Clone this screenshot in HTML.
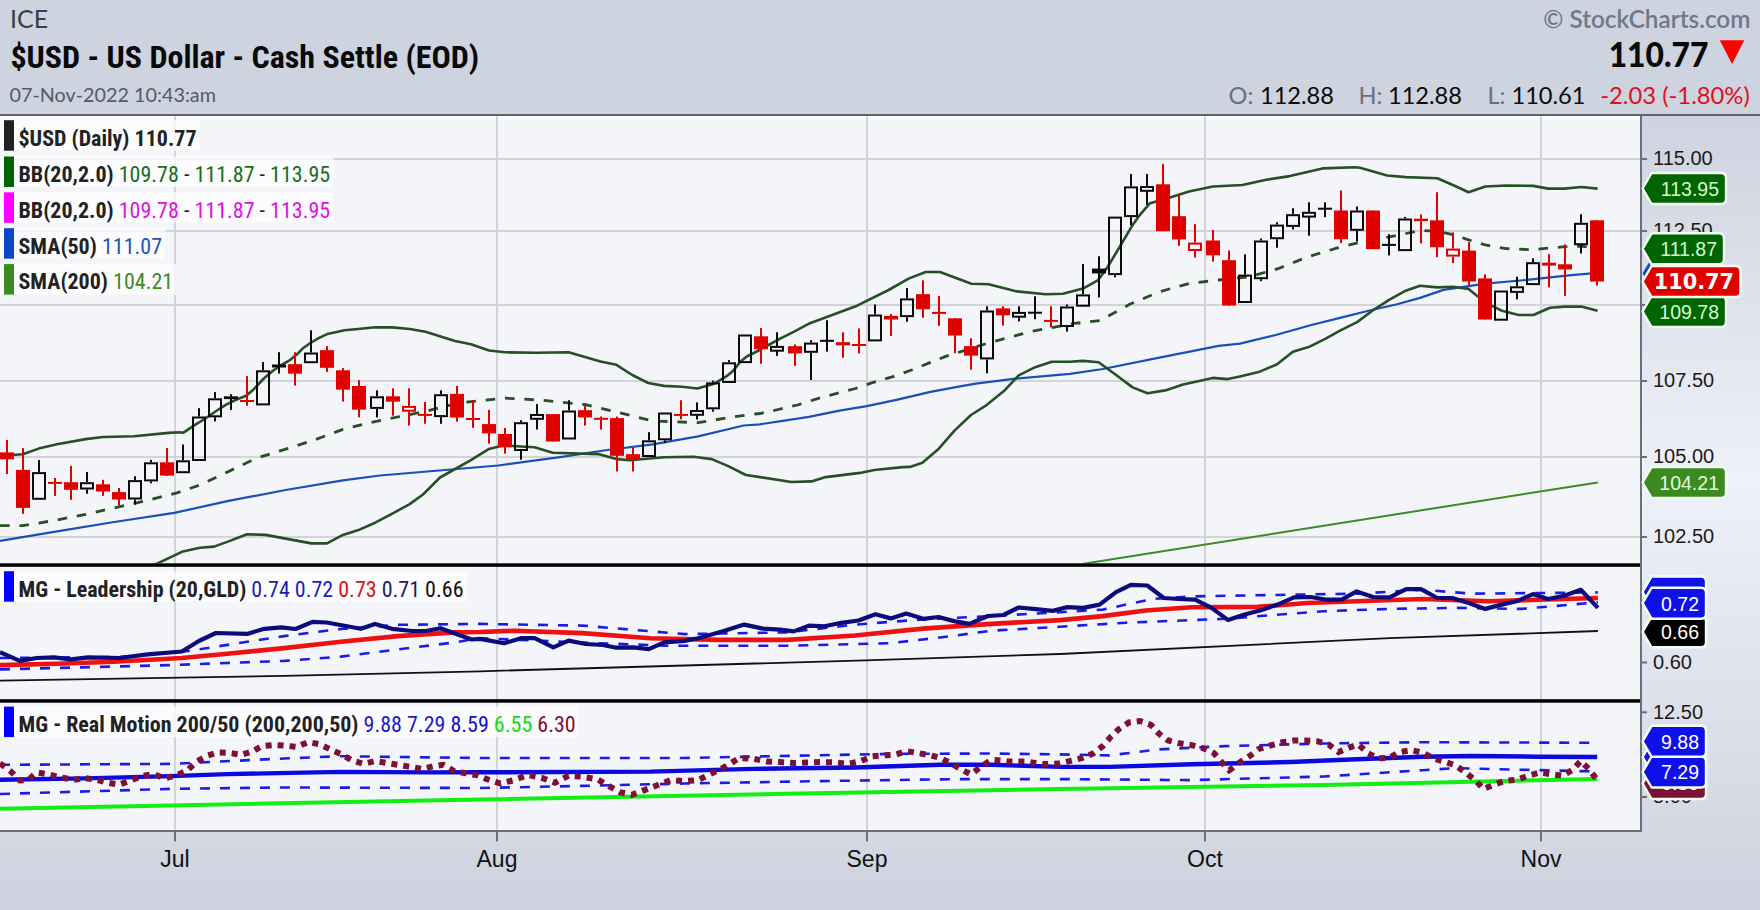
<!DOCTYPE html><html><head><meta charset="utf-8"><title>$USD - US Dollar - Cash Settle (EOD) | StockCharts</title><style>
html,body{margin:0;padding:0;width:1760px;height:910px;overflow:hidden;background:#cdd3df}
svg{display:block;position:absolute;left:0;top:0}
</style></head><body>
<svg width="1760" height="910" viewBox="0 0 1760 910">
<defs>
<linearGradient id="bgv" x1="0" y1="116" x2="0" y2="910" gradientUnits="userSpaceOnUse"><stop offset="0" stop-color="#ced3df"/><stop offset="0.46" stop-color="#eff1f9"/><stop offset="1" stop-color="#cdd2de"/></linearGradient>
<clipPath id="cp1"><rect x="0" y="116" width="1640" height="447.3"/></clipPath>
<clipPath id="cp2"><rect x="0" y="566.8" width="1640" height="132.4"/></clipPath>
<clipPath id="cp3"><rect x="0" y="702.7" width="1640" height="127.3"/></clipPath>
</defs>
<rect x="0" y="0" width="1760" height="114" fill="#cdd3df"/>
<rect x="0" y="116" width="1760" height="794" fill="url(#bgv)"/>
<rect x="0" y="116" width="1640" height="714" fill="#f4f5f9"/>
<rect x="0" y="116" width="1640" height="2" fill="#fdfdfe"/>
<rect x="0" y="118" width="1640" height="2" fill="#f9f9fc"/>
<rect x="0" y="158" width="1640" height="2" fill="#d3d4da"/>
<rect x="0" y="230" width="1640" height="2" fill="#d3d4da"/>
<rect x="0" y="304" width="1640" height="2" fill="#d3d4da"/>
<rect x="0" y="380" width="1640" height="2" fill="#d3d4da"/>
<rect x="0" y="456" width="1640" height="2" fill="#d3d4da"/>
<rect x="0" y="536" width="1640" height="2" fill="#d3d4da"/>
<rect x="174" y="116" width="2" height="714" fill="#d3d4da"/>
<rect x="496" y="116" width="2" height="714" fill="#d3d4da"/>
<rect x="866" y="116" width="2" height="714" fill="#d3d4da"/>
<rect x="1204" y="116" width="2" height="714" fill="#d3d4da"/>
<rect x="1540" y="116" width="2" height="714" fill="#d3d4da"/>
<g clip-path="url(#cp1)">
<polyline points="1082.0,564.0 1597.9,482.4" fill="none" stroke="#3f8a28" stroke-width="2"/>
<polyline points="0.0,540.9 57.0,531.4 114.3,522.0 174.3,512.9 228.6,500.9 285.7,490.0 342.9,480.3 380.0,475.5 498.2,465.5 561.8,456.8 607.3,450.0 652.7,444.3 698.2,436.4 743.6,425.5 760.0,424.3 782.7,420.9 808.9,416.9 839.5,410.7 866.8,406.1 896.4,399.9 930.5,391.9 960.0,386.3 975.9,383.7 1015.4,378.7 1070.0,373.8 1102.9,369.0 1159.3,357.7 1218.7,345.8 1240.0,343.6 1275.7,335.0 1311.4,325.0 1340.0,317.9 1368.6,310.7 1397.1,304.3 1420.0,297.9 1443.5,289.9 1485.3,283.6 1527.0,279.9 1568.8,275.3 1597.6,272.8" fill="none" stroke="#1a4fb5" stroke-width="2.2" stroke-linejoin="round"/>
<polyline points="0.0,455.7 22.9,454.3 38.6,448.6 57.0,444.3 85.7,439.1 103.0,437.0 134.0,436.3 168.6,432.9 180.0,432.3 183.1,432.8 195.4,424.6 205.4,418.5 215.4,411.5 226.2,404.6 235.4,400.0 246.2,395.8 253.8,389.2 263.8,378.5 272.3,371.2 279.2,366.2 287.7,361.5 290.0,360.0 296.8,354.5 303.6,347.7 310.5,343.0 318.6,338.2 327.2,334.1 334.3,332.4 344.5,330.3 358.2,329.0 375.2,327.3 392.2,327.4 410.0,329.0 425.5,331.8 455.0,340.9 471.0,344.3 489.0,350.5 505.0,352.3 536.8,352.7 568.6,352.3 600.5,361.4 616.4,364.8 632.3,375.0 648.2,383.0 664.0,385.9 682.3,386.8 697.3,388.5 714.2,383.7 726.3,376.4 733.5,370.4 740.8,361.3 746.8,356.5 757.7,351.0 768.5,345.0 780.6,338.3 792.7,332.3 810.0,323.2 857.1,305.7 888.6,290.0 908.6,278.6 925.7,272.0 940.0,272.0 971.4,283.7 988.6,284.3 1017.0,291.4 1045.7,294.3 1062.9,293.7 1082.9,288.6 1098.2,280.1 1107.6,267.0 1120.8,245.0 1131.8,226.3 1139.5,215.3 1150.0,203.2 1165.3,199.0 1189.0,191.5 1212.8,186.5 1242.4,185.0 1266.2,179.7 1289.9,176.1 1322.6,168.4 1355.2,167.2 1360.0,167.7 1387.1,175.5 1405.9,177.1 1437.3,178.2 1454.0,185.5 1468.6,192.2 1485.3,186.5 1506.2,185.5 1533.3,185.9 1548.0,188.6 1564.6,188.6 1581.3,187.0 1597.6,188.6" fill="none" stroke="#264f26" stroke-width="2.6" stroke-linejoin="round"/>
<polyline points="150.0,566.0 158.6,562.9 182.9,551.4 200.0,547.7 214.0,546.6 228.6,541.4 247.0,534.3 265.7,534.9 285.7,538.6 311.4,543.4 327.0,543.4 342.9,534.9 360.0,529.4 375.2,522.7 392.3,513.6 409.3,504.4 423.0,494.5 440.0,477.5 470.9,460.2 489.0,448.9 502.7,445.5 534.5,447.3 552.7,452.7 598.2,454.1 616.4,459.1 630.0,460.2 664.0,457.3 693.6,456.8 711.8,459.1 727.7,465.9 745.9,475.0 760.0,477.1 791.4,482.0 811.4,481.4 825.7,477.1 860.0,472.9 874.3,470.0 902.9,467.1 910.0,466.9 922.4,462.7 938.8,448.7 954.5,430.6 971.0,415.0 986.6,405.1 1003.9,391.1 1018.7,375.4 1035.2,367.2 1051.7,361.7 1070.0,361.7 1082.9,360.9 1098.6,362.3 1114.8,374.0 1132.6,387.4 1147.5,393.3 1165.3,390.4 1183.1,384.4 1212.8,377.9 1227.6,379.1 1240.0,376.4 1258.6,372.1 1277.1,364.3 1292.9,351.7 1308.6,347.1 1325.7,338.6 1340.0,330.7 1357.1,322.1 1374.3,309.3 1390.0,299.3 1405.7,290.7 1420.0,285.7 1437.3,287.4 1452.9,286.8 1468.6,288.9 1485.3,302.4 1502.0,310.8 1518.7,315.0 1533.3,315.0 1550.0,307.7 1564.6,306.6 1581.3,306.6 1597.6,310.8" fill="none" stroke="#264f26" stroke-width="2.6" stroke-linejoin="round"/>
<polyline points="0.0,525.7 22.9,525.7 57.0,520.0 85.7,514.3 120.0,506.6 142.9,501.4 177.0,492.9 200.0,484.9 228.6,471.4 257.0,458.0 285.7,449.1 314.3,440.0 342.9,429.4 371.4,422.3 400.0,416.5 425.5,411.4 459.5,402.7 505.0,398.2 539.0,400.0 584.5,404.5 618.6,412.5 652.7,420.9 698.2,422.7 732.3,417.0 760.0,413.5 778.2,409.5 797.5,405.0 816.8,398.8 836.1,393.6 855.5,388.5 873.6,382.3 893.0,376.6 912.3,369.8 930.5,362.4 946.4,356.1 955.5,353.3 988.6,342.9 1031.4,331.4 1074.3,323.4 1100.0,320.6 1129.7,304.3 1159.3,291.8 1189.0,283.5 1218.7,280.0 1248.4,277.0 1278.0,268.7 1307.7,256.8 1337.4,247.9 1366.3,240.8 1387.1,237.3 1405.9,233.5 1420.6,230.4 1437.3,231.4 1452.9,234.6 1468.6,239.8 1485.3,245.0 1506.2,248.6 1533.3,249.8 1548.0,248.1 1564.6,246.7 1581.3,246.1 1597.6,248.5" fill="none" stroke="#264f26" stroke-width="2.8" stroke-dasharray="9.6,9.8"/>
<rect x="6" y="440.0" width="2" height="34.0" fill="#e00000"/>
<rect x="0" y="452.4" width="14" height="6.9" fill="#e00000"/>
<rect x="22" y="448.1" width="2" height="65.7" fill="#e00000"/>
<rect x="16" y="469.9" width="14" height="38.0" fill="#e00000"/>
<rect x="38" y="460.0" width="2" height="12.1" fill="#0a0a0a"/>
<rect x="33" y="473.1" width="12" height="25.7" fill="none" stroke="#0a0a0a" stroke-width="2"/>
<rect x="54" y="478.0" width="2" height="17.9" fill="#e00000"/>
<rect x="48" y="481.9" width="14" height="2.0" fill="#e00000"/>
<rect x="70" y="465.9" width="2" height="33.9" fill="#e00000"/>
<rect x="64" y="482.2" width="14" height="7.6" fill="#e00000"/>
<rect x="86" y="472.0" width="2" height="10.2" fill="#0a0a0a"/>
<rect x="86" y="489.5" width="2" height="4.2" fill="#0a0a0a"/>
<rect x="81" y="483.2" width="12" height="5.3" fill="none" stroke="#0a0a0a" stroke-width="2"/>
<rect x="102" y="479.8" width="2" height="16.1" fill="#e00000"/>
<rect x="96" y="484.3" width="14" height="7.2" fill="#e00000"/>
<rect x="118" y="488.0" width="2" height="17.8" fill="#e00000"/>
<rect x="112" y="492.1" width="14" height="7.4" fill="#e00000"/>
<rect x="134" y="476.2" width="2" height="3.9" fill="#0a0a0a"/>
<rect x="134" y="499.5" width="2" height="5.1" fill="#0a0a0a"/>
<rect x="129" y="481.1" width="12" height="17.4" fill="none" stroke="#0a0a0a" stroke-width="2"/>
<rect x="150" y="459.9" width="2" height="2.4" fill="#0a0a0a"/>
<rect x="150" y="481.4" width="2" height="2.0" fill="#0a0a0a"/>
<rect x="145" y="463.3" width="12" height="17.1" fill="none" stroke="#0a0a0a" stroke-width="2"/>
<rect x="166" y="448.0" width="2" height="27.8" fill="#e00000"/>
<rect x="160" y="462.3" width="14" height="13.3" fill="#e00000"/>
<rect x="182" y="444.5" width="2" height="15.8" fill="#0a0a0a"/>
<rect x="177" y="461.3" width="12" height="10.9" fill="none" stroke="#0a0a0a" stroke-width="2"/>
<rect x="198" y="408.2" width="2" height="8.3" fill="#0a0a0a"/>
<rect x="193" y="417.5" width="12" height="42.5" fill="none" stroke="#0a0a0a" stroke-width="2"/>
<rect x="214" y="392.1" width="2" height="6.2" fill="#0a0a0a"/>
<rect x="214" y="417.3" width="2" height="4.1" fill="#0a0a0a"/>
<rect x="209" y="399.3" width="12" height="17.0" fill="none" stroke="#0a0a0a" stroke-width="2"/>
<rect x="230" y="394.2" width="2" height="15.7" fill="#0a0a0a"/>
<rect x="224" y="396.3" width="14" height="2.8" fill="#0a0a0a"/>
<rect x="246" y="376.1" width="2" height="29.6" fill="#e00000"/>
<rect x="240" y="400.0" width="14" height="2.0" fill="#e00000"/>
<rect x="262" y="362.0" width="2" height="8.3" fill="#0a0a0a"/>
<rect x="257" y="371.3" width="12" height="33.1" fill="none" stroke="#0a0a0a" stroke-width="2"/>
<rect x="278" y="352.2" width="2" height="21.4" fill="#0a0a0a"/>
<rect x="272" y="364.5" width="14" height="3.0" fill="#0a0a0a"/>
<rect x="294" y="352.2" width="2" height="33.4" fill="#e00000"/>
<rect x="288" y="364.2" width="14" height="9.4" fill="#e00000"/>
<rect x="310" y="330.2" width="2" height="22.3" fill="#0a0a0a"/>
<rect x="305" y="353.5" width="12" height="8.7" fill="none" stroke="#0a0a0a" stroke-width="2"/>
<rect x="326" y="346.1" width="2" height="25.8" fill="#e00000"/>
<rect x="320" y="350.2" width="14" height="17.6" fill="#e00000"/>
<rect x="342" y="368.1" width="2" height="33.5" fill="#e00000"/>
<rect x="336" y="370.3" width="14" height="19.3" fill="#e00000"/>
<rect x="358" y="380.2" width="2" height="37.1" fill="#e00000"/>
<rect x="352" y="386.0" width="14" height="23.6" fill="#e00000"/>
<rect x="376" y="390.3" width="2" height="6.0" fill="#0a0a0a"/>
<rect x="376" y="408.9" width="2" height="8.5" fill="#0a0a0a"/>
<rect x="371" y="397.3" width="12" height="10.6" fill="none" stroke="#0a0a0a" stroke-width="2"/>
<rect x="392" y="388.4" width="2" height="27.3" fill="#e00000"/>
<rect x="386" y="396.3" width="14" height="5.4" fill="#e00000"/>
<rect x="408" y="388.4" width="2" height="17.9" fill="#e00000"/>
<rect x="408" y="411.3" width="2" height="14.3" fill="#e00000"/>
<rect x="403" y="406.9" width="12" height="3.8" fill="none" stroke="#e00000" stroke-width="2"/>
<rect x="424" y="402.0" width="2" height="21.8" fill="#e00000"/>
<rect x="418" y="413.9" width="14" height="2.0" fill="#e00000"/>
<rect x="440" y="390.3" width="2" height="3.9" fill="#0a0a0a"/>
<rect x="440" y="417.1" width="2" height="6.7" fill="#0a0a0a"/>
<rect x="435" y="395.2" width="12" height="20.9" fill="none" stroke="#0a0a0a" stroke-width="2"/>
<rect x="456" y="386.0" width="2" height="35.7" fill="#e00000"/>
<rect x="450" y="393.9" width="14" height="23.6" fill="#e00000"/>
<rect x="472" y="400.2" width="2" height="27.6" fill="#e00000"/>
<rect x="466" y="418.0" width="14" height="2.0" fill="#e00000"/>
<rect x="488" y="409.9" width="2" height="33.8" fill="#e00000"/>
<rect x="482" y="424.1" width="14" height="9.3" fill="#e00000"/>
<rect x="504" y="428.0" width="2" height="25.6" fill="#e00000"/>
<rect x="498" y="434.0" width="14" height="13.3" fill="#e00000"/>
<rect x="520" y="420.2" width="2" height="2.0" fill="#0a0a0a"/>
<rect x="520" y="451.0" width="2" height="8.7" fill="#0a0a0a"/>
<rect x="515" y="423.2" width="12" height="26.8" fill="none" stroke="#0a0a0a" stroke-width="2"/>
<rect x="536" y="404.1" width="2" height="10.4" fill="#0a0a0a"/>
<rect x="536" y="419.3" width="2" height="10.2" fill="#0a0a0a"/>
<rect x="531" y="415.0" width="12" height="3.8" fill="none" stroke="#0a0a0a" stroke-width="2"/>
<rect x="552" y="414.1" width="2" height="27.4" fill="#e00000"/>
<rect x="546" y="414.1" width="14" height="27.4" fill="#e00000"/>
<rect x="568" y="400.2" width="2" height="10.3" fill="#0a0a0a"/>
<rect x="563" y="411.5" width="12" height="27.0" fill="none" stroke="#0a0a0a" stroke-width="2"/>
<rect x="584" y="405.0" width="2" height="20.6" fill="#e00000"/>
<rect x="578" y="410.2" width="14" height="7.2" fill="#e00000"/>
<rect x="600" y="416.5" width="2" height="13.0" fill="#e00000"/>
<rect x="594" y="417.8" width="14" height="2.0" fill="#e00000"/>
<rect x="616" y="416.5" width="2" height="55.0" fill="#e00000"/>
<rect x="610" y="418.1" width="14" height="37.7" fill="#e00000"/>
<rect x="632" y="447.9" width="2" height="23.6" fill="#e00000"/>
<rect x="626" y="454.2" width="14" height="5.8" fill="#e00000"/>
<rect x="648" y="432.2" width="2" height="8.1" fill="#0a0a0a"/>
<rect x="643" y="441.3" width="12" height="14.7" fill="none" stroke="#0a0a0a" stroke-width="2"/>
<rect x="664" y="440.3" width="2" height="2.8" fill="#0a0a0a"/>
<rect x="659" y="413.5" width="12" height="25.8" fill="none" stroke="#0a0a0a" stroke-width="2"/>
<rect x="680" y="400.2" width="2" height="19.1" fill="#e00000"/>
<rect x="674" y="413.9" width="14" height="2.0" fill="#e00000"/>
<rect x="696" y="402.4" width="2" height="8.1" fill="#0a0a0a"/>
<rect x="696" y="415.3" width="2" height="4.2" fill="#0a0a0a"/>
<rect x="691" y="411.0" width="12" height="3.8" fill="none" stroke="#0a0a0a" stroke-width="2"/>
<rect x="712" y="380.6" width="2" height="1.8" fill="#0a0a0a"/>
<rect x="712" y="409.3" width="2" height="2.4" fill="#0a0a0a"/>
<rect x="707" y="383.4" width="12" height="24.9" fill="none" stroke="#0a0a0a" stroke-width="2"/>
<rect x="728" y="360.1" width="2" height="2.2" fill="#0a0a0a"/>
<rect x="723" y="363.3" width="12" height="18.7" fill="none" stroke="#0a0a0a" stroke-width="2"/>
<rect x="739" y="335.5" width="12" height="26.6" fill="none" stroke="#0a0a0a" stroke-width="2"/>
<rect x="760" y="328.1" width="2" height="35.6" fill="#e00000"/>
<rect x="754" y="336.3" width="14" height="12.9" fill="#e00000"/>
<rect x="776" y="332.3" width="2" height="14.3" fill="#0a0a0a"/>
<rect x="776" y="351.0" width="2" height="4.9" fill="#0a0a0a"/>
<rect x="771" y="346.9" width="12" height="3.8" fill="none" stroke="#0a0a0a" stroke-width="2"/>
<rect x="794" y="344.4" width="2" height="21.5" fill="#e00000"/>
<rect x="788" y="346.2" width="14" height="7.2" fill="#e00000"/>
<rect x="810" y="340.2" width="2" height="2.4" fill="#0a0a0a"/>
<rect x="810" y="352.8" width="2" height="27.2" fill="#0a0a0a"/>
<rect x="805" y="343.6" width="12" height="8.2" fill="none" stroke="#0a0a0a" stroke-width="2"/>
<rect x="826" y="320.2" width="2" height="31.4" fill="#0a0a0a"/>
<rect x="820" y="339.8" width="14" height="2.0" fill="#0a0a0a"/>
<rect x="842" y="332.3" width="2" height="25.4" fill="#e00000"/>
<rect x="836" y="342.2" width="14" height="3.1" fill="#e00000"/>
<rect x="858" y="328.4" width="2" height="25.0" fill="#e00000"/>
<rect x="852" y="344.0" width="14" height="2.0" fill="#e00000"/>
<rect x="874" y="304.5" width="2" height="10.0" fill="#0a0a0a"/>
<rect x="869" y="315.5" width="12" height="24.9" fill="none" stroke="#0a0a0a" stroke-width="2"/>
<rect x="890" y="314.1" width="2" height="21.8" fill="#e00000"/>
<rect x="884" y="315.9" width="14" height="3.6" fill="#e00000"/>
<rect x="906" y="288.1" width="2" height="10.3" fill="#0a0a0a"/>
<rect x="906" y="317.1" width="2" height="4.6" fill="#0a0a0a"/>
<rect x="901" y="299.4" width="12" height="16.7" fill="none" stroke="#0a0a0a" stroke-width="2"/>
<rect x="922" y="280.3" width="2" height="37.4" fill="#e00000"/>
<rect x="916" y="294.2" width="14" height="15.1" fill="#e00000"/>
<rect x="938" y="296.0" width="2" height="29.8" fill="#e00000"/>
<rect x="932" y="311.9" width="14" height="2.0" fill="#e00000"/>
<rect x="954" y="318.3" width="2" height="34.8" fill="#e00000"/>
<rect x="948" y="318.3" width="14" height="17.2" fill="#e00000"/>
<rect x="970" y="338.3" width="2" height="31.4" fill="#e00000"/>
<rect x="964" y="346.1" width="14" height="9.5" fill="#e00000"/>
<rect x="986" y="306.3" width="2" height="4.2" fill="#0a0a0a"/>
<rect x="986" y="359.4" width="2" height="13.9" fill="#0a0a0a"/>
<rect x="981" y="311.5" width="12" height="46.9" fill="none" stroke="#0a0a0a" stroke-width="2"/>
<rect x="1002" y="306.3" width="2" height="19.3" fill="#e00000"/>
<rect x="996" y="308.4" width="14" height="6.9" fill="#e00000"/>
<rect x="1018" y="306.3" width="2" height="6.2" fill="#0a0a0a"/>
<rect x="1018" y="317.1" width="2" height="4.3" fill="#0a0a0a"/>
<rect x="1013" y="312.9" width="12" height="3.8" fill="none" stroke="#0a0a0a" stroke-width="2"/>
<rect x="1034" y="296.3" width="2" height="23.0" fill="#0a0a0a"/>
<rect x="1028" y="311.7" width="14" height="2.0" fill="#0a0a0a"/>
<rect x="1050" y="306.3" width="2" height="21.1" fill="#e00000"/>
<rect x="1044" y="319.9" width="14" height="2.0" fill="#e00000"/>
<rect x="1066" y="304.4" width="2" height="2.1" fill="#0a0a0a"/>
<rect x="1066" y="327.0" width="2" height="4.6" fill="#0a0a0a"/>
<rect x="1061" y="307.5" width="12" height="18.5" fill="none" stroke="#0a0a0a" stroke-width="2"/>
<rect x="1082" y="264.0" width="2" height="30.4" fill="#0a0a0a"/>
<rect x="1077" y="295.4" width="12" height="10.3" fill="none" stroke="#0a0a0a" stroke-width="2"/>
<rect x="1098" y="256.3" width="2" height="41.1" fill="#0a0a0a"/>
<rect x="1092" y="268.6" width="14" height="4.8" fill="#0a0a0a"/>
<rect x="1114" y="275.1" width="2" height="2.3" fill="#0a0a0a"/>
<rect x="1109" y="217.6" width="12" height="56.5" fill="none" stroke="#0a0a0a" stroke-width="2"/>
<rect x="1130" y="174.1" width="2" height="12.3" fill="#0a0a0a"/>
<rect x="1130" y="217.1" width="2" height="8.3" fill="#0a0a0a"/>
<rect x="1125" y="187.4" width="12" height="28.7" fill="none" stroke="#0a0a0a" stroke-width="2"/>
<rect x="1146" y="174.1" width="2" height="12.3" fill="#0a0a0a"/>
<rect x="1146" y="191.3" width="2" height="13.5" fill="#0a0a0a"/>
<rect x="1141" y="187.0" width="12" height="3.8" fill="none" stroke="#0a0a0a" stroke-width="2"/>
<rect x="1162" y="163.9" width="2" height="67.3" fill="#e00000"/>
<rect x="1156" y="184.3" width="14" height="46.9" fill="#e00000"/>
<rect x="1178" y="194.8" width="2" height="51.0" fill="#e00000"/>
<rect x="1172" y="216.2" width="14" height="23.2" fill="#e00000"/>
<rect x="1194" y="224.1" width="2" height="18.5" fill="#e00000"/>
<rect x="1194" y="251.0" width="2" height="6.5" fill="#e00000"/>
<rect x="1189" y="243.6" width="12" height="6.4" fill="none" stroke="#e00000" stroke-width="2"/>
<rect x="1212" y="230.0" width="2" height="31.6" fill="#e00000"/>
<rect x="1206" y="240.5" width="14" height="14.8" fill="#e00000"/>
<rect x="1228" y="250.5" width="2" height="55.0" fill="#e00000"/>
<rect x="1222" y="260.2" width="14" height="45.3" fill="#e00000"/>
<rect x="1244" y="254.4" width="2" height="20.2" fill="#0a0a0a"/>
<rect x="1239" y="275.6" width="12" height="26.4" fill="none" stroke="#0a0a0a" stroke-width="2"/>
<rect x="1260" y="238.5" width="2" height="2.0" fill="#0a0a0a"/>
<rect x="1260" y="279.2" width="2" height="2.0" fill="#0a0a0a"/>
<rect x="1255" y="241.5" width="12" height="36.7" fill="none" stroke="#0a0a0a" stroke-width="2"/>
<rect x="1276" y="222.3" width="2" height="2.3" fill="#0a0a0a"/>
<rect x="1276" y="239.2" width="2" height="8.5" fill="#0a0a0a"/>
<rect x="1271" y="225.6" width="12" height="12.6" fill="none" stroke="#0a0a0a" stroke-width="2"/>
<rect x="1292" y="208.2" width="2" height="6.0" fill="#0a0a0a"/>
<rect x="1292" y="226.9" width="2" height="2.6" fill="#0a0a0a"/>
<rect x="1287" y="215.2" width="12" height="10.7" fill="none" stroke="#0a0a0a" stroke-width="2"/>
<rect x="1308" y="202.3" width="2" height="10.3" fill="#0a0a0a"/>
<rect x="1308" y="216.9" width="2" height="18.8" fill="#0a0a0a"/>
<rect x="1303" y="212.8" width="12" height="3.8" fill="none" stroke="#0a0a0a" stroke-width="2"/>
<rect x="1324" y="202.3" width="2" height="14.9" fill="#0a0a0a"/>
<rect x="1318" y="207.7" width="14" height="2.0" fill="#0a0a0a"/>
<rect x="1340" y="190.5" width="2" height="52.6" fill="#e00000"/>
<rect x="1334" y="210.5" width="14" height="28.7" fill="#e00000"/>
<rect x="1356" y="206.5" width="2" height="4.0" fill="#0a0a0a"/>
<rect x="1356" y="230.8" width="2" height="10.7" fill="#0a0a0a"/>
<rect x="1351" y="211.5" width="12" height="18.3" fill="none" stroke="#0a0a0a" stroke-width="2"/>
<rect x="1372" y="210.5" width="2" height="38.7" fill="#e00000"/>
<rect x="1366" y="210.5" width="14" height="38.7" fill="#e00000"/>
<rect x="1388" y="234.2" width="2" height="21.2" fill="#0a0a0a"/>
<rect x="1382" y="243.9" width="14" height="2.0" fill="#0a0a0a"/>
<rect x="1404" y="216.9" width="2" height="1.6" fill="#0a0a0a"/>
<rect x="1399" y="219.5" width="12" height="30.6" fill="none" stroke="#0a0a0a" stroke-width="2"/>
<rect x="1420" y="214.5" width="2" height="28.9" fill="#e00000"/>
<rect x="1414" y="218.7" width="14" height="2.4" fill="#e00000"/>
<rect x="1436" y="192.2" width="2" height="64.9" fill="#e00000"/>
<rect x="1430" y="220.3" width="14" height="26.9" fill="#e00000"/>
<rect x="1452" y="232.4" width="2" height="16.2" fill="#e00000"/>
<rect x="1452" y="256.6" width="2" height="6.5" fill="#e00000"/>
<rect x="1447" y="249.6" width="12" height="6.0" fill="none" stroke="#e00000" stroke-width="2"/>
<rect x="1468" y="242.1" width="2" height="43.5" fill="#e00000"/>
<rect x="1462" y="250.6" width="14" height="30.9" fill="#e00000"/>
<rect x="1484" y="274.3" width="2" height="45.2" fill="#e00000"/>
<rect x="1478" y="278.4" width="14" height="41.1" fill="#e00000"/>
<rect x="1495" y="291.5" width="12" height="28.2" fill="none" stroke="#0a0a0a" stroke-width="2"/>
<rect x="1516" y="276.7" width="2" height="9.6" fill="#0a0a0a"/>
<rect x="1516" y="292.9" width="2" height="6.5" fill="#0a0a0a"/>
<rect x="1511" y="287.3" width="12" height="4.6" fill="none" stroke="#0a0a0a" stroke-width="2"/>
<rect x="1532" y="258.3" width="2" height="3.9" fill="#0a0a0a"/>
<rect x="1527" y="263.2" width="12" height="20.9" fill="none" stroke="#0a0a0a" stroke-width="2"/>
<rect x="1548" y="254.2" width="2" height="33.1" fill="#e00000"/>
<rect x="1542" y="262.7" width="14" height="2.9" fill="#e00000"/>
<rect x="1564" y="244.5" width="2" height="51.5" fill="#e00000"/>
<rect x="1558" y="264.3" width="14" height="5.1" fill="#e00000"/>
<rect x="1580" y="214.3" width="2" height="8.5" fill="#0a0a0a"/>
<rect x="1580" y="245.2" width="2" height="8.3" fill="#0a0a0a"/>
<rect x="1575" y="223.8" width="12" height="20.4" fill="none" stroke="#0a0a0a" stroke-width="2"/>
<rect x="1596" y="220.3" width="2" height="65.3" fill="#e00000"/>
<rect x="1590" y="220.3" width="14" height="61.2" fill="#e00000"/>
</g>
<g clip-path="url(#cp2)">
<polyline points="0.0,680.7 284.1,675.9 480.0,671.3 865.3,660.4 1060.0,654.0 1389.6,638.2 1597.9,631.0" fill="none" stroke="#111" stroke-width="1.8"/>
<polyline points="0.0,658.0 120.0,657.0 184.7,651.5 284.1,636.1 340.9,629.0 397.7,624.8 480.0,623.9 582.3,625.6 684.6,634.1 786.9,632.4 855.0,624.6 923.2,619.4 991.4,616.0 1060.0,612.2 1102.8,609.6 1152.3,599.0 1191.8,596.4 1290.7,594.7 1356.6,593.7 1422.6,589.8 1472.0,593.7 1597.9,592.4" fill="none" stroke="#1b1be6" stroke-width="2.6" stroke-dasharray="10,10"/>
<polyline points="0.0,669.4 170.5,665.1 284.1,660.9 340.9,656.6 397.7,649.5 454.5,642.4 480.0,638.2 582.3,642.6 667.5,645.7 786.9,645.7 889.1,643.3 940.3,637.5 991.4,630.7 1060.0,626.7 1125.9,622.7 1224.8,618.8 1323.7,611.2 1389.6,608.9 1455.5,607.9 1521.4,608.9 1597.9,602.3" fill="none" stroke="#1b1be6" stroke-width="2.6" stroke-dasharray="10,10"/>
<polyline points="0.0,665.1 56.8,663.7 113.6,661.7 181.8,658.0 227.3,653.8 284.1,648.1 340.9,641.8 397.7,636.1 454.5,632.4 480.0,632.0 514.1,630.7 582.3,633.1 650.5,638.2 718.7,639.9 786.9,639.9 855.0,635.5 923.2,628.6 991.4,623.9 1060.0,620.1 1102.8,616.1 1145.7,610.5 1191.8,607.2 1257.8,606.9 1307.2,603.0 1356.6,601.3 1422.6,599.0 1488.5,601.3 1537.9,599.7 1597.9,598.0" fill="none" stroke="#ee1111" stroke-width="4.6" stroke-linejoin="round"/>
<polyline points="0.0,652.3 19.9,660.9 36.9,658.0 54.0,657.4 71.0,659.4 88.0,657.4 119.3,658.0 147.7,654.3 181.8,651.5 198.9,641.0 215.9,633.0 247.2,633.9 264.2,628.8 281.3,627.3 295.5,629.0 312.5,621.9 326.7,622.5 360.8,628.8 375.0,623.9 392.0,628.8 411.9,631.0 426.1,631.0 440.3,628.2 471.6,639.5 480.0,638.9 503.9,643.3 520.9,638.2 534.6,638.2 553.3,647.4 568.6,640.6 585.7,644.0 602.7,645.0 616.4,647.7 633.4,647.4 648.8,649.1 664.1,642.3 684.6,640.9 698.2,638.2 722.1,631.4 744.2,624.6 763.0,628.6 780.0,629.7 793.7,631.4 809.0,625.6 824.4,626.3 841.4,622.8 858.4,620.5 875.5,614.3 890.8,618.4 906.2,613.6 923.2,618.8 938.6,617.0 953.9,621.1 969.3,623.9 988.0,616.0 1003.4,615.0 1018.7,607.5 1035.7,609.2 1052.8,610.9 1066.6,607.2 1083.1,607.9 1099.6,604.6 1116.0,592.1 1130.9,584.8 1147.3,585.5 1163.8,598.0 1178.7,599.0 1195.1,599.7 1211.6,607.9 1228.1,620.1 1244.6,614.5 1261.0,610.2 1277.5,604.6 1294.0,597.4 1310.5,597.0 1327.0,599.7 1341.8,599.7 1356.6,591.4 1373.1,597.0 1389.6,597.4 1406.1,589.1 1420.9,589.1 1437.4,598.0 1452.2,598.0 1468.7,603.0 1485.2,608.9 1501.7,604.6 1516.5,601.3 1533.0,594.1 1547.8,599.0 1564.3,595.7 1580.8,589.8 1597.9,607.9" fill="none" stroke="#0b0b7c" stroke-width="4.2" stroke-linejoin="round"/>
</g>
<g clip-path="url(#cp3)">
<polyline points="0.0,808.8 170.5,805.4 480.0,799.6 786.9,793.8 1060.0,789.0 1323.7,785.0 1472.0,781.7 1597.2,779.1" fill="none" stroke="#11ee11" stroke-width="4"/>
<polyline points="0.0,764.8 170.5,763.9 284.0,758.5 340.9,756.2 480.0,758.0 684.6,758.0 820.9,755.2 889.1,753.9 991.4,753.5 1060.0,754.4 1109.4,755.4 1158.9,749.4 1224.8,746.1 1323.7,743.5 1422.6,742.2 1597.2,742.8" fill="none" stroke="#1b1be6" stroke-width="2.6" stroke-dasharray="10,10"/>
<polyline points="0.0,794.0 170.5,788.9 284.0,787.5 480.0,788.0 582.3,785.9 684.6,783.5 820.9,781.1 957.3,779.1 1060.0,779.1 1191.8,780.1 1323.7,776.5 1422.6,770.2 1455.5,768.2 1597.2,771.5" fill="none" stroke="#1b1be6" stroke-width="2.6" stroke-dasharray="10,10"/>
<polyline points="0.0,779.8 85.2,778.4 170.5,776.1 227.3,774.1 340.9,771.9 426.1,772.4 480.0,772.3 650.5,771.6 752.8,768.9 855.0,767.5 940.3,764.8 991.4,764.8 1060.0,766.9 1109.4,766.9 1191.8,764.3 1290.7,762.0 1356.6,759.3 1422.6,756.7 1472.0,756.0 1537.9,756.7 1597.2,757.0" fill="none" stroke="#0a0ae0" stroke-width="4.4" stroke-linejoin="round"/>
<polyline points="0.0,763.3 11.4,771.9 19.9,780.4 28.4,779.8 36.9,772.4 49.7,774.7 61.1,777.5 73.9,779.8 85.2,778.1 96.6,779.8 108.0,782.7 119.3,784.6 130.7,780.4 142.0,776.1 153.4,774.1 164.8,778.4 176.1,775.3 187.5,770.4 196.0,761.9 206.0,756.2 217.3,752.5 228.7,752.8 241.5,754.8 252.8,751.4 261.4,746.3 274.1,744.9 285.5,745.7 296.9,746.9 308.2,742.0 319.6,744.3 331.0,749.7 342.3,754.8 352.3,760.5 363.6,763.9 375.0,761.1 386.4,762.8 397.7,764.8 410.5,766.8 421.9,769.0 433.2,766.2 443.2,764.8 454.5,771.3 465.9,773.3 477.3,775.3 486.8,779.1 500.5,783.5 514.1,780.1 527.7,775.0 541.4,777.7 555.0,782.8 568.6,775.7 582.3,776.7 597.6,779.4 609.6,786.3 619.8,792.1 631.7,794.8 643.7,790.4 657.3,785.2 670.9,780.1 684.6,781.1 698.2,780.1 711.8,773.3 725.5,766.5 739.1,758.0 752.8,758.6 766.4,761.4 780.0,762.1 793.7,763.1 807.3,762.4 820.9,762.1 834.6,762.4 848.2,763.8 860.2,761.4 872.1,756.3 885.7,755.2 896.0,754.6 906.2,751.1 916.4,752.8 930.0,755.2 940.3,758.0 950.5,763.1 960.7,769.2 971.0,774.3 981.2,766.5 991.4,759.7 1008.5,761.4 1025.5,761.4 1042.6,764.1 1058.5,763.6 1070.6,760.8 1082.4,758.0 1093.3,753.3 1102.6,746.2 1110.4,737.2 1118.9,729.1 1128.9,722.4 1140.2,721.0 1150.9,724.9 1159.1,733.8 1168.2,740.5 1179.5,743.3 1191.8,745.2 1203.4,748.3 1214.1,753.3 1221.9,762.5 1229.3,770.3 1239.6,762.5 1249.6,756.1 1258.8,749.0 1270.2,745.5 1282.2,742.3 1294.0,740.5 1305.5,740.5 1317.1,741.2 1328.6,744.5 1338.5,752.1 1348.4,747.8 1358.3,744.5 1368.2,753.4 1378.1,758.3 1389.6,757.7 1399.5,752.1 1411.0,750.1 1422.6,752.7 1434.1,758.7 1444.0,761.6 1455.5,765.3 1465.4,772.5 1475.3,780.1 1483.5,789.0 1493.4,785.0 1505.0,780.8 1516.5,779.8 1528.0,775.8 1539.6,772.5 1551.1,774.2 1562.6,775.8 1572.5,769.9 1580.8,761.0 1589.0,769.2 1596.6,779.1" fill="none" stroke="#7d1035" stroke-width="6" stroke-dasharray="6,6"/>
</g>
<rect x="0" y="563.3" width="1640" height="3.5" fill="#000"/>
<rect x="0" y="699.2" width="1640" height="3.5" fill="#000"/>
<rect x="0" y="114" width="1760" height="2" fill="#5e6470"/>
<rect x="0" y="830" width="1642" height="2" fill="#6b6f7b"/>
<rect x="1640" y="116" width="2" height="716" fill="#6b6f7b"/>
<rect x="174" y="832" width="2" height="9.5" fill="#6b6f7b"/>
<text x="175" y="866.5" font-family="'Liberation Sans',Arial,sans-serif" font-size="23" fill="#111" text-anchor="middle" textLength="29.41" lengthAdjust="spacingAndGlyphs">Jul</text>
<rect x="496" y="832" width="2" height="9.5" fill="#6b6f7b"/>
<text x="497" y="866.5" font-family="'Liberation Sans',Arial,sans-serif" font-size="23" fill="#111" text-anchor="middle" textLength="40.94" lengthAdjust="spacingAndGlyphs">Aug</text>
<rect x="866" y="832" width="2" height="9.5" fill="#6b6f7b"/>
<text x="867" y="866.5" font-family="'Liberation Sans',Arial,sans-serif" font-size="23" fill="#111" text-anchor="middle" textLength="40.94" lengthAdjust="spacingAndGlyphs">Sep</text>
<rect x="1204" y="832" width="2" height="9.5" fill="#6b6f7b"/>
<text x="1205" y="866.5" font-family="'Liberation Sans',Arial,sans-serif" font-size="23" fill="#111" text-anchor="middle" textLength="35.78" lengthAdjust="spacingAndGlyphs">Oct</text>
<rect x="1540" y="832" width="2" height="9.5" fill="#6b6f7b"/>
<text x="1541" y="866.5" font-family="'Liberation Sans',Arial,sans-serif" font-size="23" fill="#111" text-anchor="middle" textLength="40.91" lengthAdjust="spacingAndGlyphs">Nov</text>
<rect x="1642" y="158" width="5" height="2" fill="#6b6f7b"/>
<text x="1653" y="165.2" font-family="'Liberation Sans',Arial,sans-serif" font-size="20" fill="#1a1a1a" textLength="59.69" lengthAdjust="spacingAndGlyphs">115.00</text>
<rect x="1642" y="230" width="5" height="2" fill="#6b6f7b"/>
<text x="1653" y="237.2" font-family="'Liberation Sans',Arial,sans-serif" font-size="20" fill="#1a1a1a" textLength="59.69" lengthAdjust="spacingAndGlyphs">112.50</text>
<rect x="1642" y="380" width="5" height="2" fill="#6b6f7b"/>
<text x="1653" y="387.2" font-family="'Liberation Sans',Arial,sans-serif" font-size="20" fill="#1a1a1a" textLength="61.17" lengthAdjust="spacingAndGlyphs">107.50</text>
<rect x="1642" y="456" width="5" height="2" fill="#6b6f7b"/>
<text x="1653" y="463.2" font-family="'Liberation Sans',Arial,sans-serif" font-size="20" fill="#1a1a1a" textLength="61.17" lengthAdjust="spacingAndGlyphs">105.00</text>
<rect x="1642" y="536" width="5" height="2" fill="#6b6f7b"/>
<text x="1653" y="543.2" font-family="'Liberation Sans',Arial,sans-serif" font-size="20" fill="#1a1a1a" textLength="61.17" lengthAdjust="spacingAndGlyphs">102.50</text>
<rect x="1642" y="661.5" width="5" height="2" fill="#6b6f7b"/>
<text x="1653" y="668.7" font-family="'Liberation Sans',Arial,sans-serif" font-size="20" fill="#1a1a1a" textLength="38.94" lengthAdjust="spacingAndGlyphs">0.60</text>
<rect x="1642" y="711.3" width="5" height="2" fill="#6b6f7b"/>
<text x="1653" y="718.5" font-family="'Liberation Sans',Arial,sans-serif" font-size="20" fill="#1a1a1a" textLength="50.06" lengthAdjust="spacingAndGlyphs">12.50</text>
<rect x="1642" y="796" width="5" height="2" fill="#6b6f7b"/>
<text x="1653" y="803.2" font-family="'Liberation Sans',Arial,sans-serif" font-size="20" fill="#1a1a1a" textLength="38.94" lengthAdjust="spacingAndGlyphs">5.00</text>
<rect x="1642" y="304" width="5" height="2" fill="#6b6f7b"/>
<path d="M1642.6,273.2 L1651.6,257.7 L1655,257.7 Q1660,257.7 1660,262.7 L1660,283.7 Q1660,288.7 1655,288.7 L1651.6,288.7 Z" fill="#1a4fb5"/>
<path d="M1642.6,188.5 L1651.6,173 L1721,173 Q1726,173 1726,178 L1726,199 Q1726,204 1721,204 L1651.6,204 Z" fill="#006400" stroke="#f2fff0" stroke-width="2.4" stroke-linejoin="round"/>
<text x="1719" y="195.8" font-family="'Liberation Sans',Arial,sans-serif" font-size="19.5" fill="#d2fcce" text-anchor="end" textLength="58.20" lengthAdjust="spacingAndGlyphs">113.95</text>
<path d="M1642.6,248.8 L1651.6,233.3 L1719,233.3 Q1724,233.3 1724,238.3 L1724,259.3 Q1724,264.3 1719,264.3 L1651.6,264.3 Z" fill="#006400" stroke="#f2fff0" stroke-width="2.4" stroke-linejoin="round"/>
<text x="1717" y="256.1" font-family="'Liberation Sans',Arial,sans-serif" font-size="19.5" fill="#d2fcce" text-anchor="end" textLength="56.75" lengthAdjust="spacingAndGlyphs">111.87</text>
<path d="M1642.6,311.5 L1651.6,296 L1721,296 Q1726,296 1726,301 L1726,322 Q1726,327 1721,327 L1651.6,327 Z" fill="#006400" stroke="#f2fff0" stroke-width="2.4" stroke-linejoin="round"/>
<text x="1719" y="318.8" font-family="'Liberation Sans',Arial,sans-serif" font-size="19.5" fill="#d2fcce" text-anchor="end" textLength="59.66" lengthAdjust="spacingAndGlyphs">109.78</text>
<path d="M1642.6,281.5 L1651.6,266 L1735.5,266 Q1740.5,266 1740.5,271 L1740.5,292 Q1740.5,297 1735.5,297 L1651.6,297 Z" fill="#e00000" stroke="#f2fff0" stroke-width="2.4" stroke-linejoin="round"/>
<text x="1734" y="288.8" font-family="'DejaVu Sans','Liberation Sans',sans-serif" font-size="20.8" font-weight="bold" fill="#ffffff" text-anchor="end" textLength="80.27" lengthAdjust="spacingAndGlyphs">110.77</text>
<path d="M1642.6,482.5 L1651.6,467 L1721,467 Q1726,467 1726,472 L1726,493 Q1726,498 1721,498 L1651.6,498 Z" fill="#3a8a1f" stroke="#f2fff0" stroke-width="2.4" stroke-linejoin="round"/>
<text x="1719" y="489.8" font-family="'Liberation Sans',Arial,sans-serif" font-size="19.5" fill="#e4fcde" text-anchor="end" textLength="59.66" lengthAdjust="spacingAndGlyphs">104.21</text>
<path d="M1642.6,592 L1651.6,576.5 L1701,576.5 Q1706,576.5 1706,581.5 L1706,602.5 Q1706,607.5 1701,607.5 L1651.6,607.5 Z" fill="#1010e8" stroke="#f2fff0" stroke-width="2.4" stroke-linejoin="round"/>
<path d="M1642.6,631.8 L1651.6,616.3 L1701,616.3 Q1706,616.3 1706,621.3 L1706,642.3 Q1706,647.3 1701,647.3 L1651.6,647.3 Z" fill="#000000" stroke="#f2fff0" stroke-width="2.4" stroke-linejoin="round"/>
<text x="1699" y="639.1" font-family="'Liberation Sans',Arial,sans-serif" font-size="19.5" fill="#ffffff" text-anchor="end" textLength="37.95" lengthAdjust="spacingAndGlyphs">0.66</text>
<path d="M1642.6,603.2 L1651.6,587.7 L1701,587.7 Q1706,587.7 1706,592.7 L1706,613.7 Q1706,618.7 1701,618.7 L1651.6,618.7 Z" fill="#1010e8" stroke="#f2fff0" stroke-width="2.4" stroke-linejoin="round"/>
<text x="1699" y="610.5" font-family="'Liberation Sans',Arial,sans-serif" font-size="19.5" fill="#ffffff" text-anchor="end" textLength="37.95" lengthAdjust="spacingAndGlyphs">0.72</text>
<path d="M1642.6,783.5 L1651.6,768 L1701,768 Q1706,768 1706,773 L1706,794 Q1706,799 1701,799 L1651.6,799 Z" fill="#7d1035" stroke="#f2fff0" stroke-width="2.4" stroke-linejoin="round"/>
<text x="1699" y="789.5" font-family="'Liberation Sans',Arial,sans-serif" font-size="19.5" fill="#ffffff" text-anchor="end" textLength="37.95" lengthAdjust="spacingAndGlyphs">6.30</text>
<path d="M1642.6,757 L1651.6,741.5 L1701,741.5 Q1706,741.5 1706,746.5 L1706,767.5 Q1706,772.5 1701,772.5 L1651.6,772.5 Z" fill="#1010e8" stroke="#f2fff0" stroke-width="2.4" stroke-linejoin="round"/>
<path d="M1642.6,772 L1651.6,756.5 L1701,756.5 Q1706,756.5 1706,761.5 L1706,782.5 Q1706,787.5 1701,787.5 L1651.6,787.5 Z" fill="#1010e8" stroke="#f2fff0" stroke-width="2.4" stroke-linejoin="round"/>
<text x="1699" y="779.3" font-family="'Liberation Sans',Arial,sans-serif" font-size="19.5" fill="#ffffff" text-anchor="end" textLength="37.95" lengthAdjust="spacingAndGlyphs">7.29</text>
<path d="M1642.6,741.3 L1651.6,725.8 L1701,725.8 Q1706,725.8 1706,730.8 L1706,751.8 Q1706,756.8 1701,756.8 L1651.6,756.8 Z" fill="#1010e8" stroke="#f2fff0" stroke-width="2.4" stroke-linejoin="round"/>
<text x="1699" y="748.6" font-family="'Liberation Sans',Arial,sans-serif" font-size="19.5" fill="#ffffff" text-anchor="end" textLength="37.95" lengthAdjust="spacingAndGlyphs">9.88</text>
<rect x="0" y="120.2" width="199.5" height="30.5" fill="#ffffff" fill-opacity="0.72"/>
<rect x="4" y="120.2" width="10" height="30.5" fill="#222222"/>
<text x="18.5" y="145.5" font-family="'Roboto Condensed','Liberation Sans Narrow','Liberation Sans',sans-serif" font-size="22" xml:space="preserve" textLength="178.02" lengthAdjust="spacingAndGlyphs"><tspan fill="#222" font-weight="bold">$USD (Daily) </tspan><tspan fill="#222" font-weight="bold">110.77</tspan></text>
<rect x="0" y="156.5" width="333.6" height="30.5" fill="#ffffff" fill-opacity="0.72"/>
<rect x="4" y="156.5" width="10" height="30.5" fill="#006400"/>
<text x="18.5" y="181.8" font-family="'Roboto Condensed','Liberation Sans Narrow','Liberation Sans',sans-serif" font-size="22" xml:space="preserve" textLength="311.70" lengthAdjust="spacingAndGlyphs"><tspan fill="#222" font-weight="bold">BB(20,2.0) </tspan><tspan fill="#1a6e1a">109.78</tspan><tspan fill="#222"> - </tspan><tspan fill="#1a6e1a">111.87</tspan><tspan fill="#222"> - </tspan><tspan fill="#1a6e1a">113.95</tspan></text>
<rect x="0" y="192.3" width="333.6" height="30.5" fill="#ffffff" fill-opacity="0.72"/>
<rect x="4" y="192.3" width="10" height="30.5" fill="#ff00ff"/>
<text x="18.5" y="217.6" font-family="'Roboto Condensed','Liberation Sans Narrow','Liberation Sans',sans-serif" font-size="22" xml:space="preserve" textLength="311.70" lengthAdjust="spacingAndGlyphs"><tspan fill="#222" font-weight="bold">BB(20,2.0) </tspan><tspan fill="#e010e0">109.78</tspan><tspan fill="#222"> - </tspan><tspan fill="#e010e0">111.87</tspan><tspan fill="#222"> - </tspan><tspan fill="#e010e0">113.95</tspan></text>
<rect x="0" y="228.2" width="165.5" height="30.5" fill="#ffffff" fill-opacity="0.72"/>
<rect x="4" y="228.2" width="10" height="30.5" fill="#0a47c2"/>
<text x="18.5" y="253.5" font-family="'Roboto Condensed','Liberation Sans Narrow','Liberation Sans',sans-serif" font-size="22" xml:space="preserve" textLength="143.55" lengthAdjust="spacingAndGlyphs"><tspan fill="#222" font-weight="bold">SMA(50) </tspan><tspan fill="#1a55b8">111.07</tspan></text>
<rect x="0" y="264.1" width="176" height="30.5" fill="#ffffff" fill-opacity="0.72"/>
<rect x="4" y="264.1" width="10" height="30.5" fill="#3a8a1f"/>
<text x="18.5" y="289.4" font-family="'Roboto Condensed','Liberation Sans Narrow','Liberation Sans',sans-serif" font-size="22" xml:space="preserve" textLength="154.66" lengthAdjust="spacingAndGlyphs"><tspan fill="#222" font-weight="bold">SMA(200) </tspan><tspan fill="#3a8a1f">104.21</tspan></text>
<rect x="0" y="571.2" width="467" height="30.5" fill="#ffffff" fill-opacity="0.72"/>
<rect x="4" y="571.2" width="10" height="30.5" fill="#0000ff"/>
<text x="18.5" y="596.5" font-family="'Roboto Condensed','Liberation Sans Narrow','Liberation Sans',sans-serif" font-size="22" xml:space="preserve" textLength="445.00" lengthAdjust="spacingAndGlyphs"><tspan fill="#222" font-weight="bold">MG - Leadership (20,GLD) </tspan><tspan fill="#1a1ab8">0.74 </tspan><tspan fill="#1a1ac8">0.72 </tspan><tspan fill="#d81414">0.73 </tspan><tspan fill="#1c1c5c">0.71 </tspan><tspan fill="#111">0.66</tspan></text>
<rect x="0" y="706.6" width="578" height="30.5" fill="#ffffff" fill-opacity="0.72"/>
<rect x="4" y="706.6" width="10" height="30.5" fill="#0000ff"/>
<text x="18.5" y="731.9" font-family="'Roboto Condensed','Liberation Sans Narrow','Liberation Sans',sans-serif" font-size="22" xml:space="preserve" textLength="557.20" lengthAdjust="spacingAndGlyphs"><tspan fill="#222" font-weight="bold">MG - Real Motion 200/50 (200,200,50) </tspan><tspan fill="#1a1acc">9.88 </tspan><tspan fill="#1a1acc">7.29 </tspan><tspan fill="#1010cc">8.59 </tspan><tspan fill="#14d814">6.55 </tspan><tspan fill="#801030">6.30</tspan></text>
<text x="10" y="27.5" font-family="Lato,'Liberation Sans',sans-serif" font-size="25" fill="#3a3f4a" textLength="38.14" lengthAdjust="spacingAndGlyphs">ICE</text>
<text x="10.4" y="67.6" font-family="'Roboto Condensed','Liberation Sans Narrow','Liberation Sans',sans-serif" font-size="32" font-weight="bold" fill="#0a0a0a" textLength="468.80" lengthAdjust="spacingAndGlyphs">$USD - US Dollar - Cash Settle (EOD)</text>
<text x="9.5" y="101.6" font-family="Lato,'Liberation Sans',sans-serif" font-size="19.8" fill="#555b68" textLength="206.44" lengthAdjust="spacingAndGlyphs">07-Nov-2022 10:43:am</text>
<text x="1750.4" y="28" font-family="Lato,'Liberation Sans',sans-serif" font-size="24.3" font-weight="600" fill="#6f7989" text-anchor="end" textLength="207.09" lengthAdjust="spacingAndGlyphs">© StockCharts.com</text>
<text x="1608.7" y="66.9" font-family="Lato,'Liberation Sans',sans-serif" font-size="33.2" font-weight="900" fill="#0a0a0a" textLength="99.7" lengthAdjust="spacingAndGlyphs">110.77</text>
<path d="M1719.8,40.2 L1744.3,40.2 L1732,64.1 Z" fill="#ff0000"/>
<text x="1228.5" y="104.4" font-family="Lato,'Liberation Sans',sans-serif" font-size="23.6" fill="#6a7080" textLength="24.80" lengthAdjust="spacingAndGlyphs">O:</text>
<text x="1260" y="104.4" font-family="Lato,'Liberation Sans',sans-serif" font-size="23.6" fill="#0a0a0a" textLength="74.00" lengthAdjust="spacingAndGlyphs">112.88</text>
<text x="1358.5" y="104.4" font-family="Lato,'Liberation Sans',sans-serif" font-size="23.6" fill="#6a7080" textLength="23.92" lengthAdjust="spacingAndGlyphs">H:</text>
<text x="1388" y="104.4" font-family="Lato,'Liberation Sans',sans-serif" font-size="23.6" fill="#0a0a0a" textLength="74.00" lengthAdjust="spacingAndGlyphs">112.88</text>
<text x="1487.5" y="104.4" font-family="Lato,'Liberation Sans',sans-serif" font-size="23.6" fill="#6a7080" textLength="18.02" lengthAdjust="spacingAndGlyphs">L:</text>
<text x="1511.5" y="104.4" font-family="Lato,'Liberation Sans',sans-serif" font-size="23.6" fill="#0a0a0a" textLength="74.00" lengthAdjust="spacingAndGlyphs">110.61</text>
<text x="1600.2" y="104.4" font-family="Lato,'Liberation Sans',sans-serif" font-size="23.8" fill="#e01018" textLength="149.61" lengthAdjust="spacingAndGlyphs">-2.03 (-1.80%)</text>
</svg></body></html>
